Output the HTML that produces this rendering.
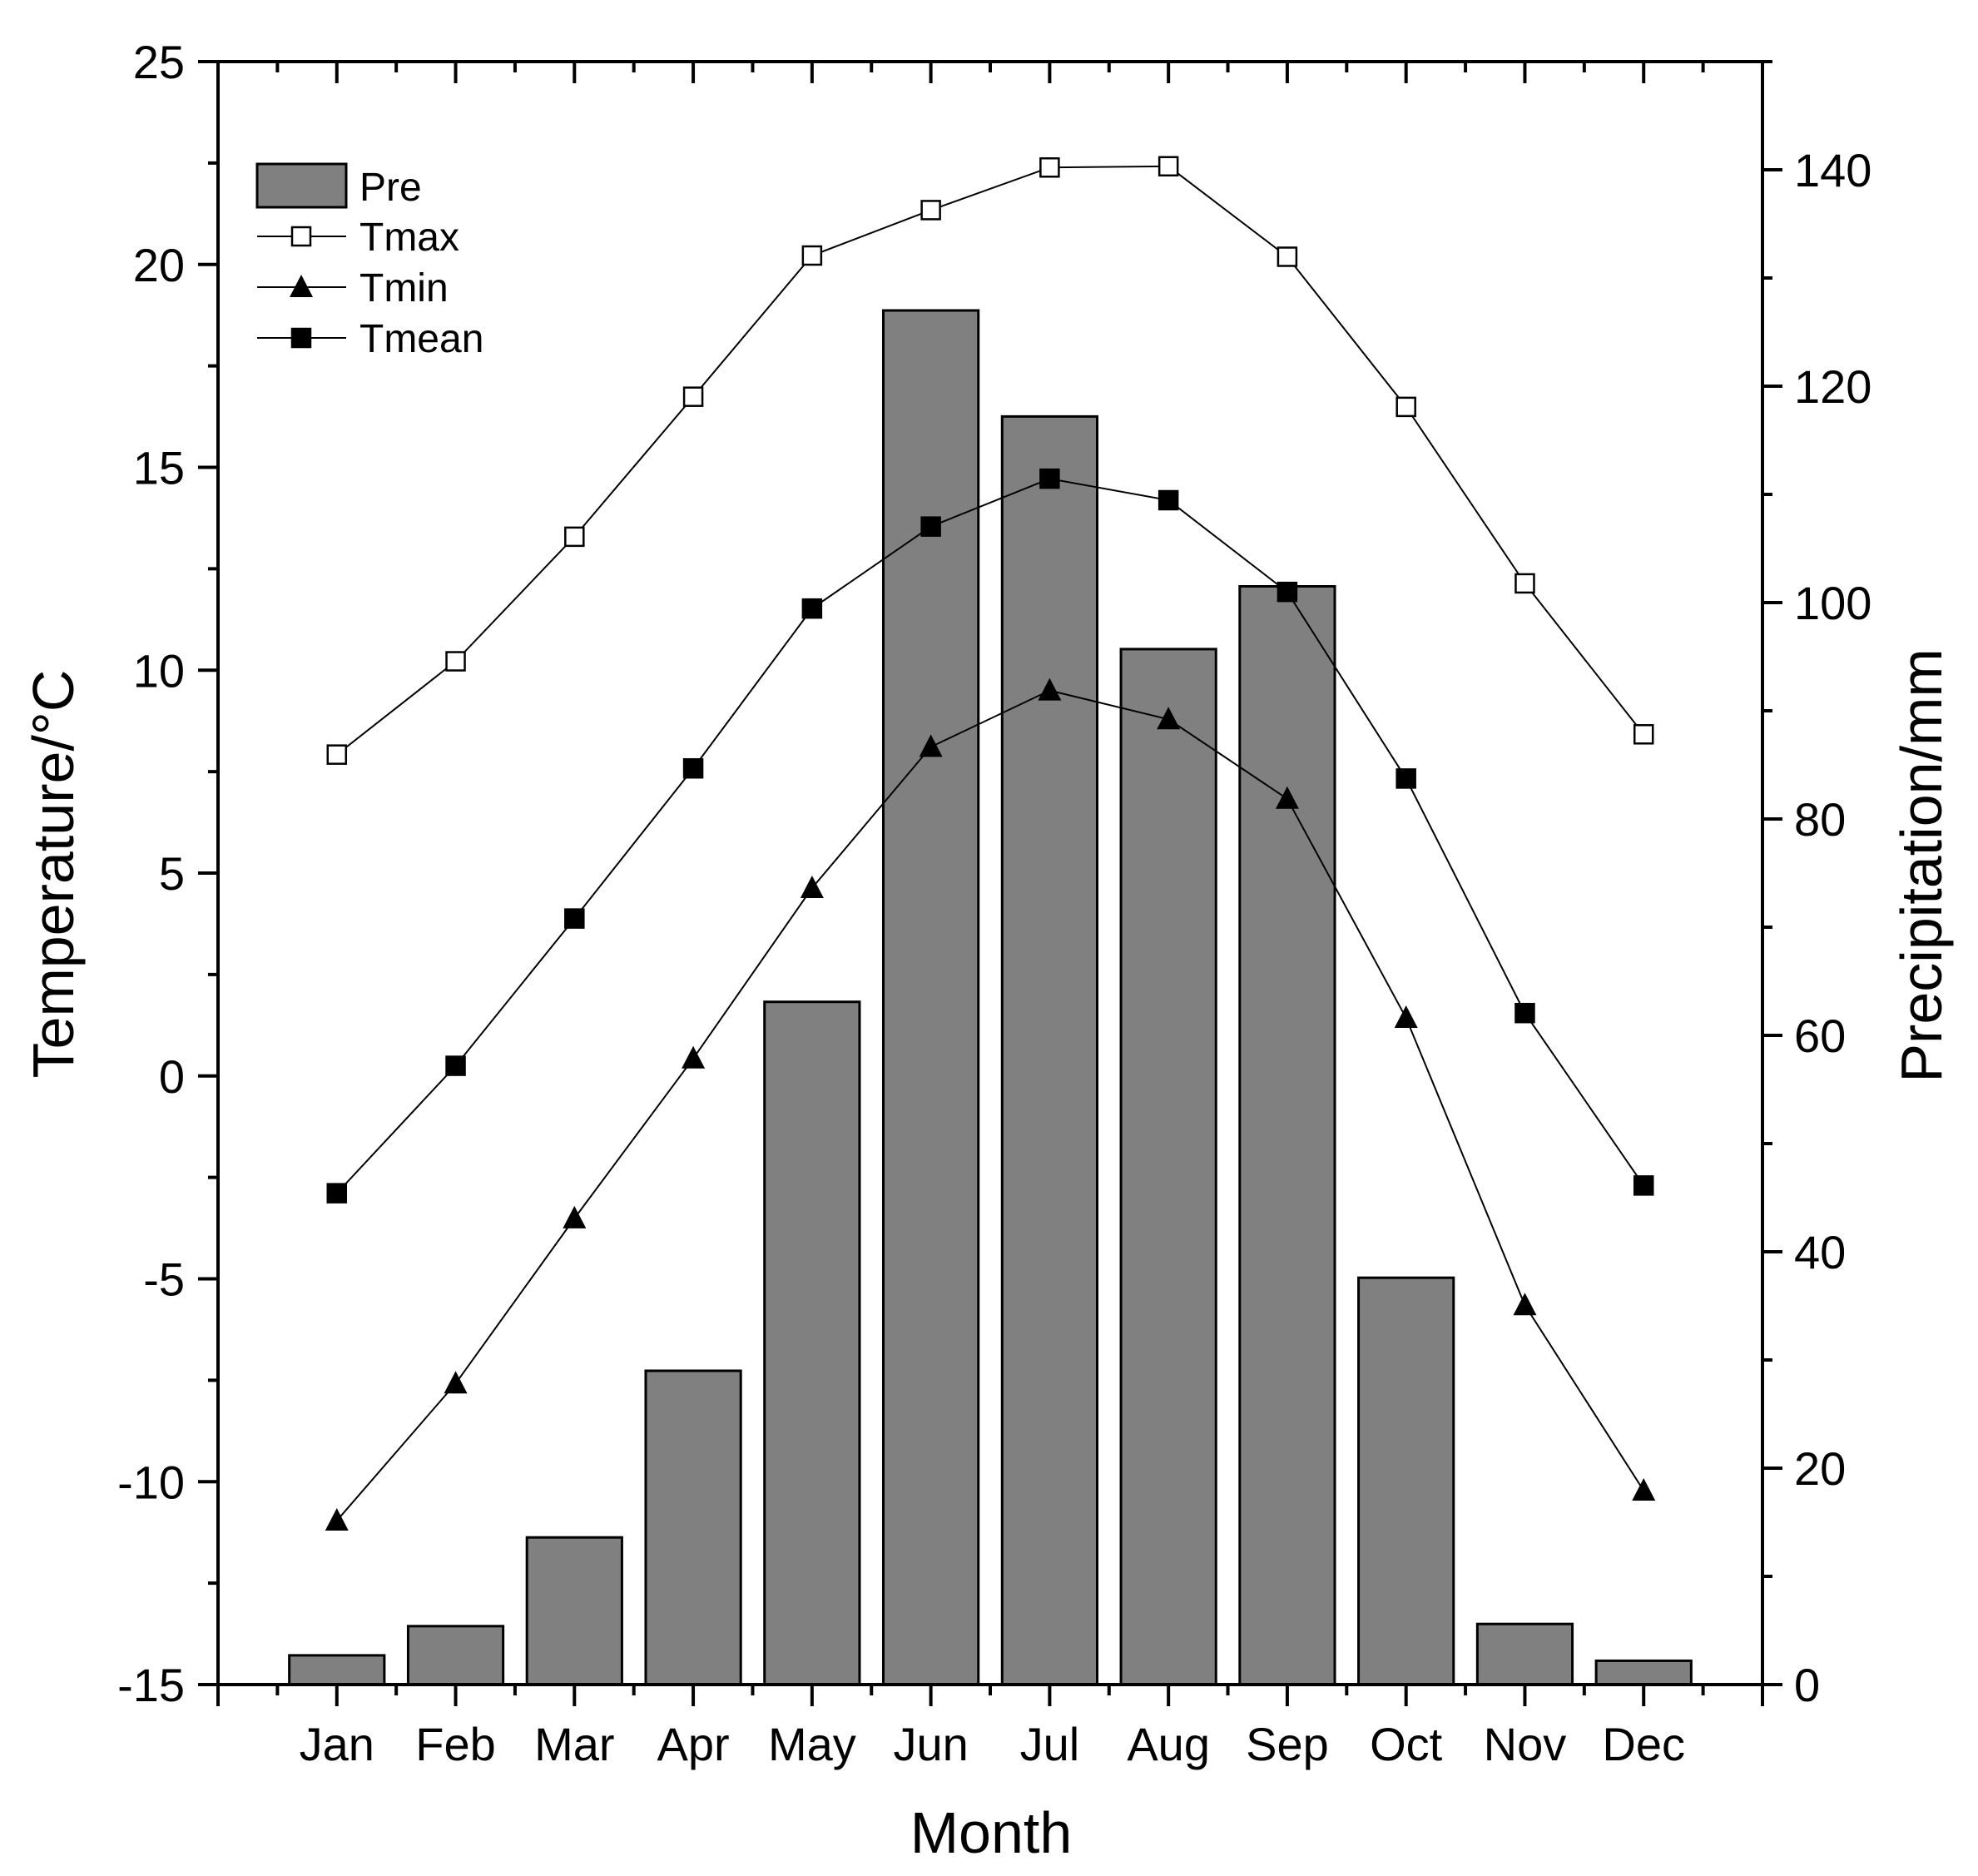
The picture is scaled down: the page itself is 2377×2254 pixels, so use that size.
<!DOCTYPE html>
<html><head><meta charset="utf-8"><style>
body{margin:0;background:#fff}
svg text{font-family:"Liberation Sans",Arial,sans-serif;fill:#000}
</style></head><body>
<svg id="c" width="2377" height="2249" xmlns="http://www.w3.org/2000/svg"></svg>
<script>
const months=["Jan","Feb","Mar","Apr","May","Jun","Jul","Aug","Sep","Oct","Nov","Dec"];
const pre=[2.7,5.4,13.6,29.0,63.1,127.0,117.2,95.7,101.5,37.6,5.6,2.2];
const tmax=[7.92,10.22,13.29,16.74,20.22,21.34,22.39,22.42,20.19,16.49,12.14,8.42];
const tmean=[-2.89,0.25,3.88,7.58,11.52,13.54,14.72,14.19,11.93,7.33,1.55,-2.70];
const tmin=[-10.96,-7.58,-3.51,0.43,4.63,8.11,9.50,8.79,6.83,1.43,-5.65,-10.22];
const tTicks=[-15,-10,-5,0,5,10,15,20,25];
const pTicks=[0,20,40,60,80,100,120,140];
const L=262,R=2118,T=74,B=2024;
const sx=i=>L+(i+1)*(R-L)/13;
const sy=v=>B-(v+15)/40*(B-T);
const sp=v=>B-v/150*(B-T);
const svg=document.getElementById('c');
const NS="http://www.w3.org/2000/svg";
function mk(tag,at,parent){const e=document.createElementNS(NS,tag);for(const k in at)e.setAttribute(k,at[k]);(parent||svg).appendChild(e);return e;}
const bw=0.8*(R-L)/13;
pre.forEach((v,i)=>{
 const r=mk('rect',{x:sx(i)-bw/2,y:sp(v),width:bw,height:B-sp(v),fill:'#808080',stroke:'#000','stroke-width':3});
 
 
});
function series(arr,name,marker){
 const g=mk('g',{});
 
 
 mk('polyline',{points:arr.map((v,i)=>sx(i)+','+sy(v)).join(' '),fill:'none',stroke:'#000','stroke-width':2},g);
 arr.forEach((v,i)=>{const m=marker(sx(i),sy(v),g);
  
  });
}
const sq=(fill)=>(x,y,g)=>mk('rect',{x:x-11,y:y-11,width:22,height:22,fill:fill,stroke:'#000','stroke-width':2.5},g);
const tri=(x,y,g)=>mk('polygon',{points:`${x},${y-15} ${x-14},${y+12} ${x+14},${y+12}`,fill:'#000'},g);
series(tmax,'tmax',sq('#fff'));
series(tmin,'tmin',tri);
series(tmean,'tmean',sq('#000'));
const ax=mk('g',{stroke:'#000','stroke-width':4,fill:'none'});


mk('rect',{x:L,y:T,width:R-L,height:B-T},ax);
for(let i=0;i<=13;i++){const x=L+i*(R-L)/13;
 mk('line',{x1:x,y1:B,x2:x,y2:B+26},ax);mk('line',{x1:x,y1:T,x2:x,y2:T+26},ax);
 if(i<13){const xm=x+(R-L)/26;mk('line',{x1:xm,y1:B,x2:xm,y2:B+13},ax);mk('line',{x1:xm,y1:T,x2:xm,y2:T+13},ax);}}
months.forEach((m,i)=>{const t=mk('text',{x:sx(i),y:2115,'font-size':56,'text-anchor':'middle'});t.textContent=m;
 });
tTicks.forEach(v=>{const y=sy(v);mk('line',{x1:L-24,y1:y,x2:L,y2:y},ax);
 if(v<25)mk('line',{x1:L-12,y1:sy(v+2.5),x2:L,y2:sy(v+2.5)},ax);
 const t=mk('text',{x:L-40,y:y+20,'font-size':56,'text-anchor':'end'});t.textContent=v;
 });
pTicks.forEach(v=>{const y=sp(v);mk('line',{x1:R,y1:y,x2:R+24,y2:y},ax);
 mk('line',{x1:R,y1:sp(v+10),x2:R+12,y2:sp(v+10)},ax);
 const t=mk('text',{x:R+38,y:y+20,'font-size':56,'text-anchor':'start'});t.textContent=v;
 });
let t=mk('text',{x:1191,y:2226,'font-size':70,'text-anchor':'middle'});t.textContent='Month';

t=mk('text',{x:0,y:0,'font-size':70,'text-anchor':'middle',transform:'translate(88,1050) rotate(-90)'});t.textContent='Temperature/°C';

t=mk('text',{x:0,y:0,'font-size':70,'text-anchor':'middle',transform:'translate(2333,1040) rotate(-90)'});t.textContent='Precipitation/mm';

const lg=mk('g',{});


mk('rect',{x:309,y:197,width:107,height:52,fill:'#808080',stroke:'#000','stroke-width':3},lg);
const rows=[['Pre',224],['Tmax',284],['Tmin',345],['Tmean',406]];
rows.forEach(([n,y],k)=>{
 if(k>0){mk('line',{x1:309,y1:y,x2:416,y2:y,stroke:'#000','stroke-width':2},lg);
  if(k==1)sq('#fff')(362,y,lg);if(k==2)tri(362,y,lg);if(k==3)sq('#000')(362,y,lg);}
 const tx=mk('text',{x:432,y:y+17,'font-size':48},lg);tx.textContent=n;
 
});
</script>
</body></html>
